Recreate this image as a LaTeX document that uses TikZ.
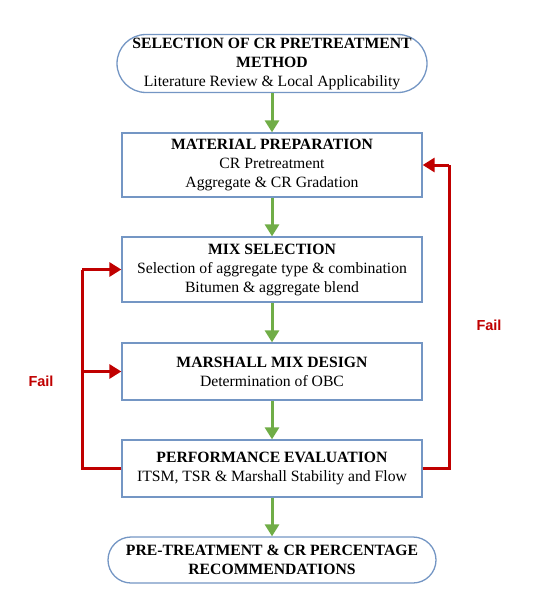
\documentclass[tikz,border=0pt]{standalone}
\usepackage{fontspec}
\setmainfont{Liberation Serif}
\newfontfamily\failfont{Liberation Sans}
\usetikzlibrary{arrows.meta}
\definecolor{boxblue}{RGB}{116,150,196}
\definecolor{arrgreen}{RGB}{112,173,71}
\definecolor{arrred}{RGB}{192,0,0}
\begin{document}
\begin{tikzpicture}[x=1pt,y=-1pt,
  box/.style={draw=boxblue,line width=1.3pt,fill=white,align=center,inner sep=0pt,
    font=\fontsize{15.7}{19}\selectfont,minimum width=300pt},
  pill/.style={box,rounded corners=#1},
  garrow/.style={draw=arrgreen,line width=3pt,-{Triangle[width=14pt,length=12pt]}},
  rarrow/.style={draw=arrred,line width=3pt,-{Triangle[width=14pt,length=12pt]}},
  rline/.style={draw=arrred,line width=3pt},
  faillabel/.style={text=arrred,font=\failfont\bfseries\fontsize{14.5}{16}\selectfont}]
\useasboundingbox (0,0) rectangle (535,610);
\node[pill=29pt,minimum width=310pt,minimum height=58pt] (top) at (272,63.5)
  {\textbf{SELECTION OF CR PRETREATMENT}\\\textbf{METHOD}\\Literature Review \& Local Applicability};
\node[box,minimum height=64pt] (b1) at (272,165)
  {\textbf{MATERIAL PREPARATION}\\CR Pretreatment\\Aggregate \& CR Gradation};
\node[box,minimum height=65pt] (b2) at (272,269.5)
  {\textbf{MIX SELECTION}\\Selection of aggregate type \& combination\\Bitumen \& aggregate blend};
\node[box,minimum height=57pt] (b3) at (272,371.5)
  {\textbf{MARSHALL MIX DESIGN}\\Determination of OBC};
\node[box,minimum height=57pt] (b4) at (272,468.5)
  {\textbf{PERFORMANCE EVALUATION}\\ITSM, TSR \& Marshall Stability and Flow};
\node[pill=23pt,minimum width=328pt,minimum height=46pt] (bot) at (272,560)
  {\textbf{PRE-TREATMENT \& CR PERCENTAGE}\\\textbf{RECOMMENDATIONS}};
\draw[garrow] (top.south) -- (b1.north);
\draw[garrow] (b1.south) -- (b2.north);
\draw[garrow] (b2.south) -- (b3.north);
\draw[garrow] (b3.south) -- (b4.north);
\draw[garrow] (b4.south) -- (bot.north);
\coordinate (lx) at (82,0);
\coordinate (rx) at (449,0);
\coordinate (lbr) at (82,371.5);
\draw[rline] (b4.west) -| (lx |- b2.west);
\draw[rarrow] (lx |- b2.west) -- (b2.west);
\draw[rarrow] (lbr) -- (b3.west);
\draw[rline] (b4.east) -| (rx |- b1.east);
\draw[rarrow] (rx |- b1.east) -- (b1.east);
\node[faillabel] (fl) at (41,381) {Fail};
\node[faillabel] (fr) at (489,325) {Fail};
\end{tikzpicture}
\end{document}
